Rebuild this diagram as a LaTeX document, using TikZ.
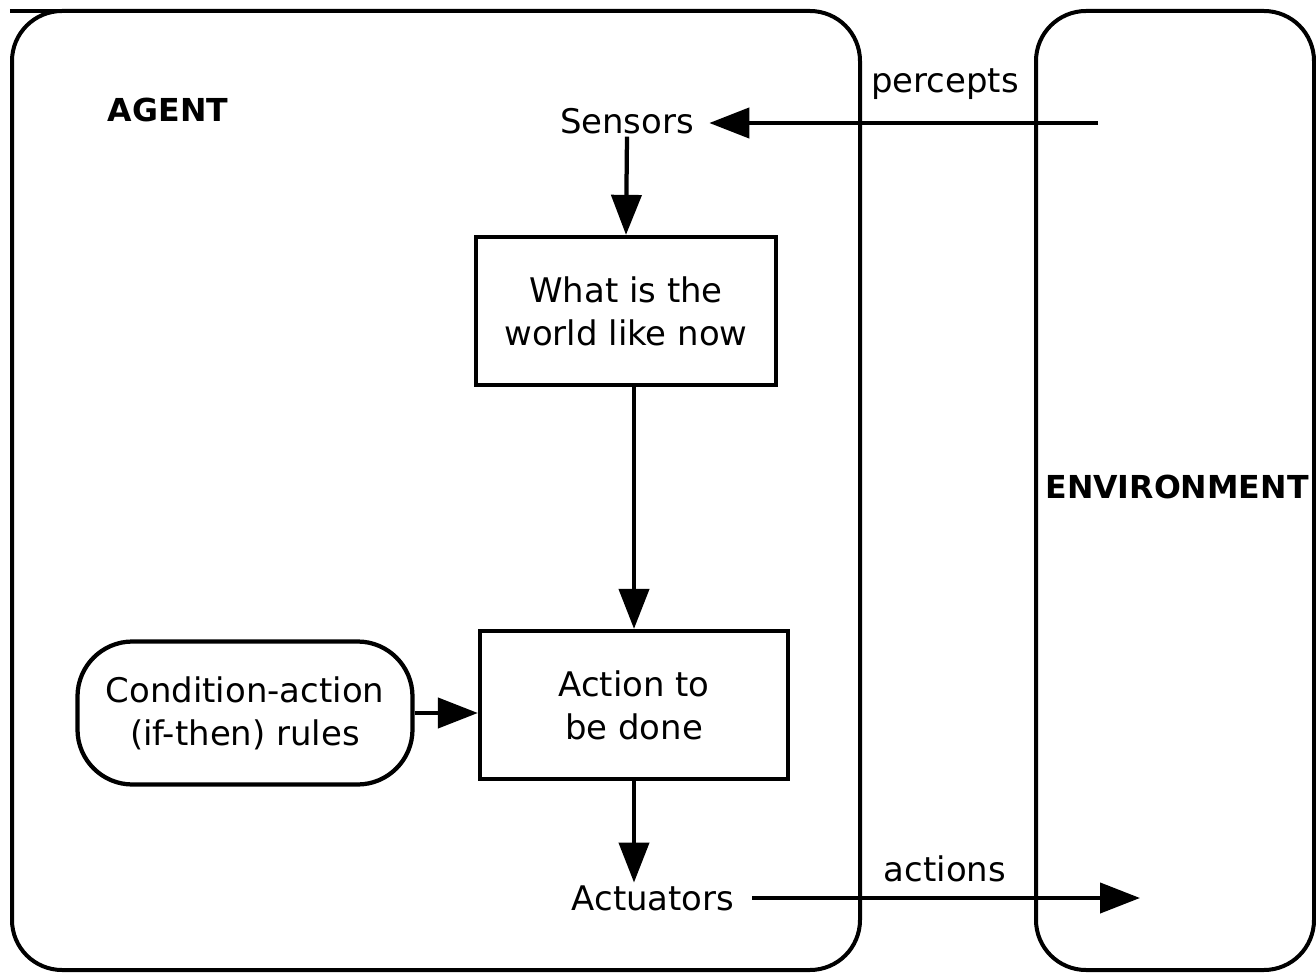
\documentclass[tikz,border=0pt]{standalone}
\usepackage{fontspec}
\setmainfont{DejaVu Sans}
\usetikzlibrary{positioning}
\usetikzlibrary{arrows.meta}
\tikzset{
	>={Triangle[length=0.8cm,width=0.6cm]},
	punkt/.style={
		rectangle, 
		draw=black, line width=0.085cm,
		minimum width=6cm, 
		minimum height=2.96cm, 
		align=center},
	regel/.style={
		rectangle, 
		rounded corners=1.1cm,
		draw=black, line width=0.085cm,
		minimum width=6.7cm, 
		minimum height=2.86cm, 
		align=center},
	rahmen/.style={draw, line width=0.08cm, rounded corners=1cm},
	etikett/.style={inner xsep=0.3cm, inner ysep=0.05cm},
	titel/.style={font=\bfseries\fontsize{18}{24}\selectfont},
	line/.style={draw, line width=0.085cm, ->},
}
\begin{document}
\begin{tikzpicture}
	[font=\fontsize{19.3}{24.4}\selectfont]
	\useasboundingbox (0,0) rectangle (26.32,-19.46);
	
	% agent and environment
	\draw[rahmen] (0.24,-0.22) rectangle (17.2,-19.4);
	\draw[rahmen] (20.72,-0.22) rectangle (26.28,-19.4);
	\draw[line width=0.08cm] (0.2,-0.22) -- (1.4,-0.22);
	\node[titel] (agent) at (3.36,-2.2) {AGENT};
	\node[titel] (environment) at (23.54,-9.74) {ENVIRONMENT};
	
	\node[etikett] (sensors) at (12.54,-2.42) {Sensors};
	\node[punkt] (world) at (12.52,-6.22) {What is the\\world like now};
	\node[punkt, minimum width=6.16cm] (action) at (12.68,-14.1) {Action to\\be done};
	\node[regel] (rules) at (4.9,-14.26) {Condition-action\\(if-then) rules};
	\node[etikett, inner xsep=0.35cm] (actuators) at (13.06,-17.96) {Actuators};
	
	\coordinate (envin) at (21.96,-2.46);
	\coordinate (envout) at (22.8,-17.96);
	\node (percepts) at (18.9,-1.68) {percepts};
	\node (actions) at (18.9,-17.38) {actions};
	
	\path[line] (envin) -- (envin -| sensors.east);
	\path[line] (sensors.south) -- (world.north);
	\path[line] (action.north |- world.south) -- (action.north);
	\path[line] (rules.east) -- (rules.east -| action.west);
	\path[line] (action.south) -- (action.south |- actuators.north);
	\path[line] (actuators.east) -- (envout);
	
\end{tikzpicture}
\end{document}
